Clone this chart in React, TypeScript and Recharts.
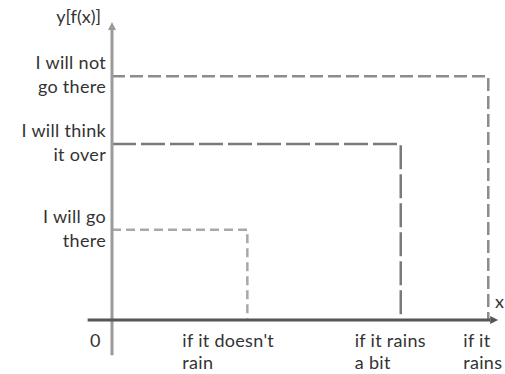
import { ComposedChart, Line, ReferenceLine, XAxis, YAxis } from "recharts";

// x positions of the three weather cases, y levels of the three answers
const xTicks = [0, 1.5, 3.2, 4.17];
const xLabels = [["0"], ["if it doesn't", "rain"], ["if it rains", "a bit"], ["if it", "rains"]];
const yTicks = [1, 1.95, 2.7];
const yLabels = [["I will go", "there"], ["I will think", "it over"], ["I will not", "go there"]];

const goThere = [
  { x: 0, y: 1 },
  { x: 1.5, y: 1 },
  { x: 1.5, y: 0 },
];
const thinkOver = [
  { x: 0, y: 1.95 },
  { x: 3.2, y: 1.95 },
  { x: 3.2, y: 0 },
];
const notGo = [
  { x: 0, y: 2.7 },
  { x: 4.17, y: 2.7 },
  { x: 4.17, y: 0 },
];

const FONT = "Lato, sans-serif";
const FS = 18;
const xOffsets = [-22, -65, -46, -25];

const XTick = ({ x, y, index }: any) => {
  const lines = xLabels[index] || [];
  return (
    <text x={x + xOffsets[index]} y={y} fontFamily={FONT} fontSize={FS} fill="#333" textAnchor="start" letterSpacing={0.3}>
      {lines.map((l, i) => (
        <tspan key={i} x={x + xOffsets[index]} dy={i === 0 ? 19 : 22}>
          {l}
        </tspan>
      ))}
    </text>
  );
};

const YTick = ({ x, y, index }: any) => {
  const lines = yLabels[index] || [];
  return (
    <text x={x} y={y} fontFamily={FONT} fontSize={FS} fill="#333" textAnchor="end" letterSpacing={0.3}>
      {lines.map((l, i) => (
        <tspan key={i} x={x} dy={i === 0 ? -7 : 24}>
          {l}
        </tspan>
      ))}
    </text>
  );
};

const arrowLine = (color: string, width: number) => (props: any) => {
  const { x1, y1, x2, y2 } = props;
  const dx = x2 - x1;
  const dy = y2 - y1;
  const len = Math.sqrt(dx * dx + dy * dy) || 1;
  const ux = dx / len;
  const uy = dy / len;
  const hl = 8;
  const hw = 4;
  const bx = x2 - ux * hl;
  const by = y2 - uy * hl;
  const pts = `${x2},${y2} ${bx - uy * hw},${by + ux * hw} ${bx + uy * hw},${by - ux * hw}`;
  return (
    <g>
      <line x1={x1} y1={y1} x2={bx} y2={by} stroke={color} strokeWidth={width} />
      <polygon points={pts} fill={color} />
    </g>
  );
};

export default function App() {
  return (
    <div style={{ position: "relative", width: 505, height: 374, background: "#fff" }}>
      <style>{`body{margin:0}`}</style>
      <ComposedChart width={505} height={374} margin={{ top: 22, right: 5, bottom: 0, left: 0 }}>
        <XAxis
          type="number"
          dataKey="x"
          domain={[0, 4.3]}
          ticks={xTicks}
          tick={<XTick />}
          axisLine={false}
          tickLine={false}
          height={54}
          interval={0}
          allowDataOverflow
        />
        <YAxis
          type="number"
          dataKey="y"
          domain={[0, 3.3]}
          ticks={yTicks}
          tick={<YTick />}
          axisLine={false}
          tickLine={false}
          tickSize={0}
          tickMargin={6}
          width={112}
          interval={0}
          allowDataOverflow
        />
        <Line data={goThere} dataKey="y" type="linear" stroke="#a8a8a8" strokeWidth={2.5} strokeDasharray="9 5" dot={false} isAnimationActive={false} />
        <Line data={thinkOver} dataKey="y" type="linear" stroke="#7a7a7a" strokeWidth={2.5} strokeDasharray="24 5" dot={false} isAnimationActive={false} />
        <Line data={notGo} dataKey="y" type="linear" stroke="#8c8c8c" strokeWidth={2.5} strokeDasharray="13 5" dot={false} isAnimationActive={false} />
        <ReferenceLine
          segment={[{ x: 0, y: -0.39 }, { x: 0, y: 3.3 }]}
          ifOverflow="visible"
          shape={arrowLine("#9a9a9a", 3)}
        />
        <ReferenceLine
          segment={[{ x: -0.27, y: 0 }, { x: 4.28, y: 0 }]}
          ifOverflow="visible"
          shape={arrowLine("#555", 3)}
        />
      </ComposedChart>
      <div style={{ position: "absolute", right: 404, top: 5, fontFamily: FONT, fontSize: FS, color: "#333" }}>y[f(x)]</div>
      <div style={{ position: "absolute", left: 495, top: 290, fontFamily: FONT, fontSize: FS, color: "#333" }}>x</div>
    </div>
  );
}
